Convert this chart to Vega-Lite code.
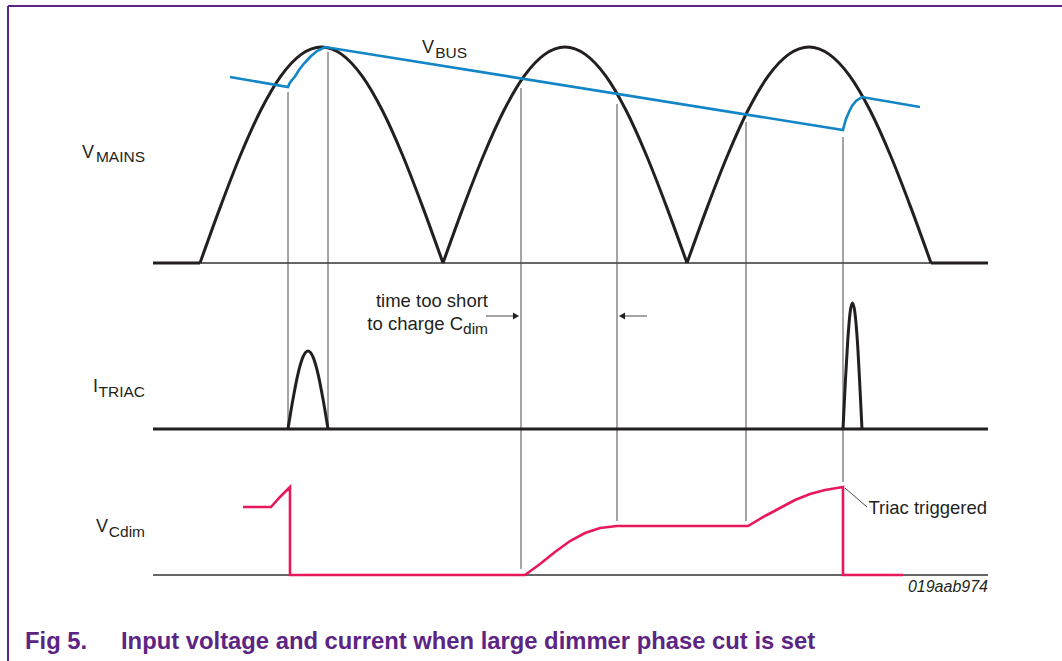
{
  "$schema": "https://vega.github.io/schema/vega-lite/v6.json",
  "width": 1062,
  "height": 661,
  "autosize": {"type": "none"},
  "padding": 0,
  "background": "white",
  "config": {"view": {"stroke": null}},
  "datasets": {
    "lines": [
      {"s": "frameTop", "i": 0, "x": 8, "y": 6}, {"s": "frameTop", "i": 1, "x": 1062, "y": 6},
      {"s": "frameLeft", "i": 0, "x": 8, "y": 6}, {"s": "frameLeft", "i": 1, "x": 8, "y": 661},
      {"s": "baseMains", "i": 0, "x": 153, "y": 263}, {"s": "baseMains", "i": 1, "x": 988, "y": 263},
      {"s": "baseCdim", "i": 0, "x": 153, "y": 575}, {"s": "baseCdim", "i": 1, "x": 988, "y": 575},
      {"s": "g1", "i": 0, "x": 288, "y": 92}, {"s": "g1", "i": 1, "x": 288, "y": 429},
      {"s": "g2", "i": 0, "x": 328, "y": 52}, {"s": "g2", "i": 1, "x": 328, "y": 429},
      {"s": "g3", "i": 0, "x": 521, "y": 88}, {"s": "g3", "i": 1, "x": 521, "y": 569},
      {"s": "g4", "i": 0, "x": 617, "y": 104}, {"s": "g4", "i": 1, "x": 617, "y": 521},
      {"s": "g5", "i": 0, "x": 746, "y": 122}, {"s": "g5", "i": 1, "x": 746, "y": 521},
      {"s": "g6", "i": 0, "x": 843, "y": 137}, {"s": "g6", "i": 1, "x": 843, "y": 482},
      {"s": "leader", "i": 0, "x": 845, "y": 488}, {"s": "leader", "i": 1, "x": 867, "y": 507},
      {"s": "arrow1", "i": 0, "x": 486, "y": 316}, {"s": "arrow1", "i": 1, "x": 514, "y": 316},
      {"s": "arrow2", "i": 0, "x": 624, "y": 316}, {"s": "arrow2", "i": 1, "x": 647, "y": 316},
      {"s": "flat1", "i": 0, "x": 153, "y": 263}, {"s": "flat1", "i": 1, "x": 200, "y": 263},
      {"s": "flat2", "i": 0, "x": 931, "y": 263}, {"s": "flat2", "i": 1, "x": 988, "y": 263},
      {"s": "itriac", "i": 0, "x": 153, "y": 429}, {"s": "itriac", "i": 1, "x": 988, "y": 429},
      {"s": "arc1", "i": 0, "x": 200, "y": 263}, {"s": "arc1", "i": 1, "x": 220.25, "y": 207.1},
      {"s": "arc1", "i": 2, "x": 240.5, "y": 155}, {"s": "arc1", "i": 3, "x": 260.75, "y": 110.3},
      {"s": "arc1", "i": 4, "x": 281, "y": 75.9}, {"s": "arc1", "i": 5, "x": 301.25, "y": 54.4},
      {"s": "arc1", "i": 6, "x": 321.5, "y": 47}, {"s": "arc1", "i": 7, "x": 341.75, "y": 54.4},
      {"s": "arc1", "i": 8, "x": 362, "y": 75.9}, {"s": "arc1", "i": 9, "x": 382.25, "y": 110.3},
      {"s": "arc1", "i": 10, "x": 402.5, "y": 155}, {"s": "arc1", "i": 11, "x": 422.75, "y": 207.1},
      {"s": "arc1", "i": 12, "x": 443, "y": 263},
      {"s": "arc2", "i": 0, "x": 443, "y": 263}, {"s": "arc2", "i": 1, "x": 463.3, "y": 207.1},
      {"s": "arc2", "i": 2, "x": 483.7, "y": 155}, {"s": "arc2", "i": 3, "x": 504, "y": 110.3},
      {"s": "arc2", "i": 4, "x": 524.3, "y": 75.9}, {"s": "arc2", "i": 5, "x": 544.7, "y": 54.4},
      {"s": "arc2", "i": 6, "x": 565, "y": 47}, {"s": "arc2", "i": 7, "x": 585.3, "y": 54.4},
      {"s": "arc2", "i": 8, "x": 605.7, "y": 75.9}, {"s": "arc2", "i": 9, "x": 626, "y": 110.3},
      {"s": "arc2", "i": 10, "x": 646.3, "y": 155}, {"s": "arc2", "i": 11, "x": 666.7, "y": 207.1},
      {"s": "arc2", "i": 12, "x": 687, "y": 263},
      {"s": "arc3", "i": 0, "x": 687, "y": 263}, {"s": "arc3", "i": 1, "x": 707.3, "y": 207.1},
      {"s": "arc3", "i": 2, "x": 727.7, "y": 155}, {"s": "arc3", "i": 3, "x": 748, "y": 110.3},
      {"s": "arc3", "i": 4, "x": 768.3, "y": 75.9}, {"s": "arc3", "i": 5, "x": 788.7, "y": 54.4},
      {"s": "arc3", "i": 6, "x": 809, "y": 47}, {"s": "arc3", "i": 7, "x": 829.3, "y": 54.4},
      {"s": "arc3", "i": 8, "x": 849.7, "y": 75.9}, {"s": "arc3", "i": 9, "x": 870, "y": 110.3},
      {"s": "arc3", "i": 10, "x": 890.3, "y": 155}, {"s": "arc3", "i": 11, "x": 910.7, "y": 207.1},
      {"s": "arc3", "i": 12, "x": 931, "y": 263},
      {"s": "pulse1", "i": 0, "x": 288, "y": 429}, {"s": "pulse1", "i": 1, "x": 293, "y": 399.1},
      {"s": "pulse1", "i": 2, "x": 298, "y": 373.8}, {"s": "pulse1", "i": 3, "x": 303, "y": 356.9},
      {"s": "pulse1", "i": 4, "x": 308, "y": 351}, {"s": "pulse1", "i": 5, "x": 313, "y": 356.9},
      {"s": "pulse1", "i": 6, "x": 318, "y": 373.8}, {"s": "pulse1", "i": 7, "x": 323, "y": 399.1},
      {"s": "pulse1", "i": 8, "x": 328, "y": 429},
      {"s": "pulse2", "i": 0, "x": 843, "y": 429}, {"s": "pulse2", "i": 1, "x": 845.4, "y": 380.8},
      {"s": "pulse2", "i": 2, "x": 847.8, "y": 339.9}, {"s": "pulse2", "i": 3, "x": 850.1, "y": 312.6},
      {"s": "pulse2", "i": 4, "x": 852.5, "y": 303}, {"s": "pulse2", "i": 5, "x": 854.9, "y": 312.6},
      {"s": "pulse2", "i": 6, "x": 857.3, "y": 339.9}, {"s": "pulse2", "i": 7, "x": 859.6, "y": 380.8},
      {"s": "pulse2", "i": 8, "x": 862, "y": 429},
      {"s": "vbus", "i": 0, "x": 230, "y": 77}, {"s": "vbus", "i": 1, "x": 288, "y": 87},
      {"s": "vbus", "i": 2, "x": 289.5, "y": 83.5}, {"s": "vbus", "i": 3, "x": 292, "y": 80},
      {"s": "vbus", "i": 4, "x": 295, "y": 76.5}, {"s": "vbus", "i": 5, "x": 299, "y": 70},
      {"s": "vbus", "i": 6, "x": 304, "y": 63.5}, {"s": "vbus", "i": 7, "x": 310, "y": 57},
      {"s": "vbus", "i": 8, "x": 317, "y": 51}, {"s": "vbus", "i": 9, "x": 325, "y": 47},
      {"s": "vbus", "i": 10, "x": 843, "y": 130}, {"s": "vbus", "i": 11, "x": 844, "y": 126},
      {"s": "vbus", "i": 12, "x": 846, "y": 119}, {"s": "vbus", "i": 13, "x": 849, "y": 112},
      {"s": "vbus", "i": 14, "x": 852, "y": 106}, {"s": "vbus", "i": 15, "x": 856, "y": 101},
      {"s": "vbus", "i": 16, "x": 862, "y": 97}, {"s": "vbus", "i": 17, "x": 920, "y": 107},
      {"s": "vcdim", "i": 0, "x": 243, "y": 507}, {"s": "vcdim", "i": 1, "x": 271, "y": 507},
      {"s": "vcdim", "i": 2, "x": 280, "y": 497}, {"s": "vcdim", "i": 3, "x": 290, "y": 487},
      {"s": "vcdim", "i": 4, "x": 290, "y": 575}, {"s": "vcdim", "i": 5, "x": 525, "y": 575},
      {"s": "vcdim", "i": 6, "x": 540, "y": 564}, {"s": "vcdim", "i": 7, "x": 555, "y": 552},
      {"s": "vcdim", "i": 8, "x": 570, "y": 541}, {"s": "vcdim", "i": 9, "x": 585, "y": 533},
      {"s": "vcdim", "i": 10, "x": 600, "y": 528}, {"s": "vcdim", "i": 11, "x": 617, "y": 526},
      {"s": "vcdim", "i": 12, "x": 748, "y": 526}, {"s": "vcdim", "i": 13, "x": 765, "y": 516},
      {"s": "vcdim", "i": 14, "x": 780, "y": 508}, {"s": "vcdim", "i": 15, "x": 795, "y": 500},
      {"s": "vcdim", "i": 16, "x": 810, "y": 494}, {"s": "vcdim", "i": 17, "x": 825, "y": 490},
      {"s": "vcdim", "i": 18, "x": 843, "y": 487}, {"s": "vcdim", "i": 19, "x": 843, "y": 575},
      {"s": "vcdim", "i": 20, "x": 903, "y": 575}
    ],
    "heads": [
      {"d": "right", "x": 516, "y": 316},
      {"d": "left", "x": 622, "y": 316}
    ],
    "labels": [
      {"k": "main", "t": "V", "x": 94, "y": 158},
      {"k": "main", "t": "I", "x": 98, "y": 392},
      {"k": "main", "t": "V", "x": 108, "y": 532},
      {"k": "main", "t": "V", "x": 434, "y": 53},
      {"k": "sub", "t": "MAINS", "x": 145, "y": 162},
      {"k": "sub", "t": "TRIAC", "x": 145, "y": 397},
      {"k": "sub", "t": "Cdim", "x": 145, "y": 537},
      {"k": "sub", "t": "BUS", "x": 467, "y": 58},
      {"k": "sub", "t": "dim", "x": 488, "y": 334},
      {"k": "note", "t": "time too short", "x": 488, "y": 307},
      {"k": "note", "t": "to charge C", "x": 463, "y": 330},
      {"k": "note", "t": "Triac triggered", "x": 987, "y": 514},
      {"k": "code", "t": "019aab974", "x": 988, "y": 592},
      {"k": "cap", "t": "Fig 5.", "x": 25, "y": 649},
      {"k": "cap", "t": "Input voltage and current when large dimmer phase cut is set", "x": 121, "y": 649}
    ]
  },
  "encoding": {
    "x": {"field": "x", "type": "quantitative", "scale": {"domain": [0, 1062], "nice": false, "zero": false}, "axis": null},
    "y": {"field": "y", "type": "quantitative", "scale": {"domain": [0, 661], "nice": false, "zero": false, "reverse": true}, "axis": null}
  },
  "layer": [
    {
      "data": {"name": "lines"},
      "transform": [{"filter": {"field": "s", "oneOf": ["frameTop", "frameLeft"]}}],
      "mark": {"type": "line", "color": "#5c2483", "strokeWidth": 2},
      "encoding": {"detail": {"field": "s"}, "order": {"field": "i"}}
    },
    {
      "data": {"name": "lines"},
      "transform": [{"filter": {"field": "s", "oneOf": ["baseMains", "baseCdim"]}}],
      "mark": {"type": "line", "color": "#333333", "strokeWidth": 1.4},
      "encoding": {"detail": {"field": "s"}, "order": {"field": "i"}}
    },
    {
      "data": {"name": "lines"},
      "transform": [{"filter": {"field": "s", "oneOf": ["g1", "g2", "g3", "g4", "g5", "g6", "leader", "arrow1", "arrow2"]}}],
      "mark": {"type": "line", "color": "#4a4a4a", "strokeWidth": 1},
      "encoding": {"detail": {"field": "s"}, "order": {"field": "i"}}
    },
    {
      "data": {"name": "lines"},
      "transform": [{"filter": {"field": "s", "oneOf": ["flat1", "flat2", "itriac"]}}],
      "mark": {"type": "line", "color": "#231f20", "strokeWidth": 3},
      "encoding": {"detail": {"field": "s"}, "order": {"field": "i"}}
    },
    {
      "data": {"name": "lines"},
      "transform": [{"filter": {"field": "s", "oneOf": ["arc1", "arc2", "arc3", "pulse1", "pulse2"]}}],
      "mark": {"type": "line", "color": "#231f20", "strokeWidth": 3, "interpolate": "monotone"},
      "encoding": {"detail": {"field": "s"}, "order": {"field": "i"}}
    },
    {
      "data": {"name": "lines"},
      "transform": [{"filter": {"field": "s", "equal": "vbus"}}],
      "mark": {"type": "line", "color": "#1285c6", "strokeWidth": 2.6},
      "encoding": {"order": {"field": "i"}}
    },
    {
      "data": {"name": "lines"},
      "transform": [{"filter": {"field": "s", "equal": "vcdim"}}],
      "mark": {"type": "line", "color": "#e8195b", "strokeWidth": 2.6},
      "encoding": {"order": {"field": "i"}}
    },
    {
      "data": {"name": "heads"},
      "mark": {"type": "point", "filled": true, "color": "#231f20", "opacity": 1, "size": 50},
      "encoding": {
        "shape": {"field": "d", "type": "nominal", "scale": {"domain": ["right", "left"], "range": ["triangle-right", "triangle-left"]}, "legend": null}
      }
    },
    {
      "data": {"name": "labels"},
      "transform": [{"filter": {"field": "k", "equal": "main"}}],
      "mark": {"type": "text", "align": "right", "baseline": "alphabetic", "font": "Liberation Sans", "fontSize": 18, "color": "#231f20"},
      "encoding": {"text": {"field": "t"}}
    },
    {
      "data": {"name": "labels"},
      "transform": [{"filter": {"field": "k", "equal": "sub"}}],
      "mark": {"type": "text", "align": "right", "baseline": "alphabetic", "font": "Liberation Sans", "fontSize": 15.5, "color": "#231f20"},
      "encoding": {"text": {"field": "t"}}
    },
    {
      "data": {"name": "labels"},
      "transform": [{"filter": {"field": "k", "equal": "note"}}],
      "mark": {"type": "text", "align": "right", "baseline": "alphabetic", "font": "Liberation Sans", "fontSize": 18.5, "color": "#231f20"},
      "encoding": {"text": {"field": "t"}}
    },
    {
      "data": {"name": "labels"},
      "transform": [{"filter": {"field": "k", "equal": "code"}}],
      "mark": {"type": "text", "align": "right", "baseline": "alphabetic", "font": "Liberation Sans", "fontSize": 16, "fontStyle": "italic", "color": "#231f20"},
      "encoding": {"text": {"field": "t"}}
    },
    {
      "data": {"name": "labels"},
      "transform": [{"filter": {"field": "k", "equal": "cap"}}],
      "mark": {"type": "text", "align": "left", "baseline": "alphabetic", "font": "Liberation Sans", "fontSize": 23.8, "fontWeight": "bold", "color": "#5c2483"},
      "encoding": {"text": {"field": "t"}}
    }
  ]
}
